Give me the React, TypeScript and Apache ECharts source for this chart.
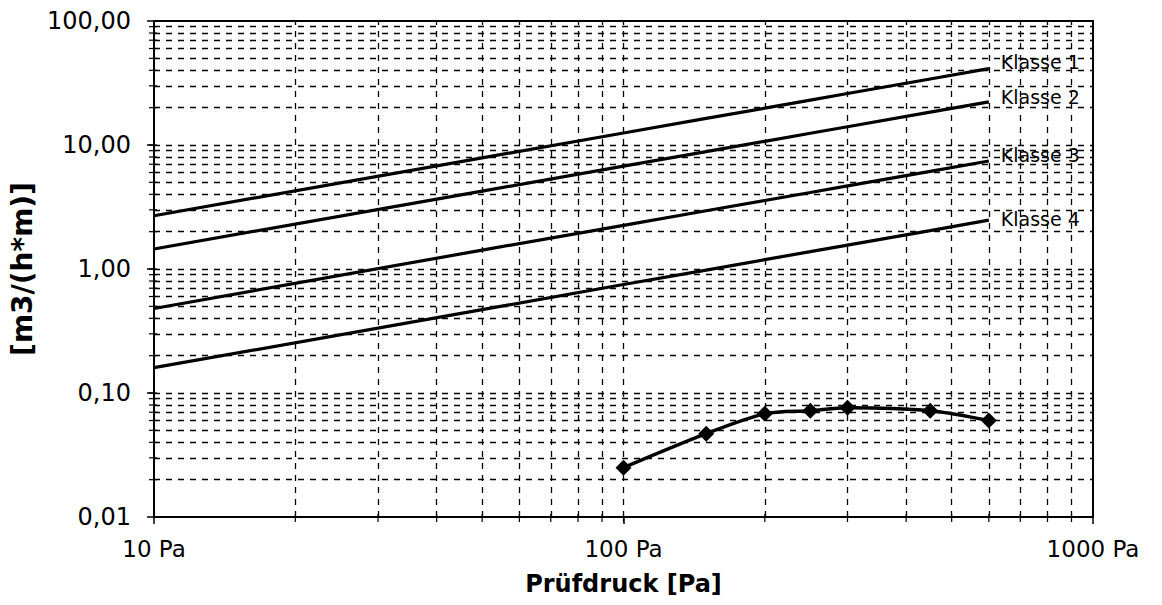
import { useEffect, useRef } from "react";
import * as echarts from "echarts";

// Prüfdruck [Pa] for the class limit lines
const pressures = [10, 50, 100, 150, 200, 250, 300, 450, 600];
const klasse1 = [2.69, 7.87, 12.5, 16.38, 19.84, 23.03, 26.0, 34.07, 41.27];
const klasse2 = [1.45, 4.25, 6.75, 8.85, 10.71, 12.43, 14.04, 18.4, 22.29];
const klasse3 = [0.48, 1.42, 2.25, 2.95, 3.57, 4.14, 4.68, 6.13, 7.43];
const klasse4 = [0.16, 0.47, 0.75, 0.98, 1.19, 1.38, 1.56, 2.04, 2.48];
const classNames = ["Klasse 1", "Klasse 2", "Klasse 3", "Klasse 4"];

// measured values
const measuredP = [100, 150, 200, 250, 300, 450, 600];
const measuredQ = [0.025, 0.047, 0.068, 0.072, 0.076, 0.072, 0.06];

// grid / tick positions
const gridX = [20, 30, 40, 50, 60, 70, 80, 90, 100, 200, 300, 400, 500, 600, 700, 800, 900];
const gridY = [
  0.02, 0.03, 0.04, 0.05, 0.06, 0.07, 0.08, 0.09, 0.1,
  0.2, 0.3, 0.4, 0.5, 0.6, 0.7, 0.8, 0.9, 1,
  2, 3, 4, 5, 6, 7, 8, 9, 10,
  20, 30, 40, 50, 60, 70, 80, 90,
];

const X_MIN = 10;
const X_MAX = 1000;
const Y_MIN = 0.01;
const Y_MAX = 100;

const FONT = "DejaVu Sans";

export default function App() {
  const ref = useRef<HTMLDivElement>(null);

  useEffect(() => {
    if (!ref.current) return;
    const chart = echarts.init(ref.current, null, { renderer: "svg" });

    const classData = [klasse1, klasse2, klasse3, klasse4];
    const labelOffsets = [
      [0, -7],
      [0, -5],
      [0, -6],
      [0, -1],
    ];

    const classSeries = classData.map((vals, i) => ({
      type: "line",
      name: classNames[i],
      data: pressures.map((p, j) => [p, vals[j]]),
      showSymbol: false,
      symbol: "none",
      lineStyle: { color: "#000", width: 3.2 },
      z: 4,
      endLabel: {
        show: true,
        formatter: classNames[i],
        color: "#000",
        fontSize: 19,
        fontFamily: FONT,
        distance: 12,
        offset: labelOffsets[i],
      },
    }));

    const tickData = [
      ...gridX.map((x) => [x, Y_MIN, 0]),
      ...gridY.map((y) => [X_MIN, y, 1]),
    ];

    const option = {
      animation: false,
      backgroundColor: "#fff",
      grid: {
        left: 154,
        right: 69,
        top: 21,
        bottom: 88,
        show: true,
        borderColor: "#000",
        borderWidth: 2,
        backgroundColor: "transparent",
      },
      xAxis: {
        type: "log",
        logBase: 10,
        min: X_MIN,
        max: X_MAX,
        name: "Prüfdruck [Pa]",
        nameLocation: "middle",
        nameGap: 55,
        nameTextStyle: { fontWeight: "bold", fontSize: 24, fontFamily: FONT, color: "#000" },
        axisLine: { lineStyle: { color: "#000", width: 2 } },
        axisTick: { show: true, length: 7, lineStyle: { color: "#000", width: 1.5 } },
        axisLabel: {
          formatter: (v: number) => `${Math.round(v)} Pa`,
          fontSize: 23,
          fontFamily: FONT,
          color: "#000",
          margin: 20,
        },
        splitLine: { show: false },
      },
      yAxis: {
        type: "log",
        logBase: 10,
        min: Y_MIN,
        max: Y_MAX,
        name: "[m3/(h*m)]",
        nameLocation: "middle",
        nameGap: 114,
        nameTextStyle: { fontWeight: "bold", fontSize: 28, fontFamily: FONT, color: "#000" },
        axisLine: { lineStyle: { color: "#000", width: 2 } },
        axisTick: { show: true, length: 7, lineStyle: { color: "#000", width: 1.5 } },
        axisLabel: {
          formatter: (v: number) => Number(v).toFixed(2).replace(".", ","),
          fontSize: 24,
          fontFamily: FONT,
          color: "#000",
          margin: 23,
        },
        splitLine: { show: false },
      },
      series: [
        {
          type: "line",
          data: [[X_MIN, Y_MIN]],
          showSymbol: false,
          symbol: "none",
          lineStyle: { opacity: 0 },
          silent: true,
          z: 1,
          markLine: {
            silent: true,
            symbol: ["none", "none"],
            label: { show: false },
            lineStyle: { type: [6, 6], color: "#000", width: 1.3 },
            data: [
              ...gridX.map((x) => ({ xAxis: x })),
              ...gridY.map((y) => ({ yAxis: y })),
            ],
          },
        },
        {
          type: "custom",
          silent: true,
          clip: false,
          z: 5,
          data: tickData,
          renderItem: (_params: any, api: any) => {
            const p = api.coord([api.value(0), api.value(1)]);
            const dir = api.value(2);
            if (dir === 0) {
              return {
                type: "line",
                shape: { x1: p[0], y1: p[1] - 3, x2: p[0], y2: p[1] + 5 },
                style: { stroke: "#000", lineWidth: 1.2 },
              };
            }
            return {
              type: "line",
              shape: { x1: p[0] - 5, y1: p[1], x2: p[0] + 3, y2: p[1] },
              style: { stroke: "#000", lineWidth: 1.2 },
            };
          },
        },
        ...classSeries,
        {
          type: "line",
          name: "Messung",
          data: measuredP.map((p, j) => [p, measuredQ[j]]),
          smooth: 0.3,
          symbol: "diamond",
          symbolSize: 16,
          itemStyle: { color: "#000" },
          lineStyle: { color: "#000", width: 3.5 },
          z: 6,
        },
      ],
    };

    chart.setOption(option as any);
    return () => chart.dispose();
  }, []);

  return (
    <div
      ref={ref}
      style={{ position: "fixed", left: 0, top: 0, width: 1162, height: 605, background: "#fff" }}
    />
  );
}
